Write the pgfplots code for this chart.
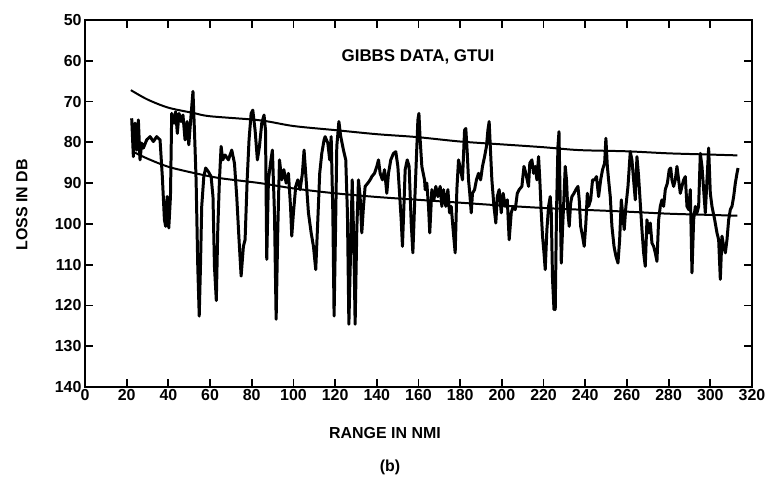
\documentclass[border=0pt]{standalone}
\usepackage{fontspec}
\setmainfont{Liberation Sans}
\usepackage{pgfplots}
\pgfplotsset{compat=1.18}

\begin{document}
\begin{tikzpicture}
\path[use as bounding box] (-85bp,-96bp) rectangle (690bp,387bp);
\begin{axis}[
    at={(0,0)}, anchor=south west,
    scale only axis, width=667bp, height=367bp,
    xmin=0, xmax=320, ymin=50, ymax=140,
    y dir=reverse,
    xtick distance=20, ytick distance=10,
    tick align=inside, major tick length=8bp,
    axis line style={line width=1.8pt},
    every tick/.style={line width=1.8pt, black},
    ticklabel style={font=\bfseries\fontsize{16}{16}\selectfont},
    xticklabel style={yshift=1bp},
    /pgf/number format/assume math mode=true,
    /pgf/number format/1000 sep={},
    clip=false,
  ]
  % upper envelope
  \addplot[black, line width=2pt, smooth] coordinates {
    (22,67.2) (30,69.5) (40,71.5) (52,72.8) (60,73.6) (84,74.6) (100,76)
    (120,77) (140,78) (159,78.7) (180,79.8) (200,80.5) (220,81.2)
    (237,81.9) (260,82.2) (280,82.7) (300,83) (313,83.2)};
  % lower envelope
  \addplot[black, line width=2pt, smooth] coordinates {
    (23,82.3) (30,84) (40,86) (53,87.6) (65,88.8) (84,90) (100,91.3)
    (120,92.5) (140,93.4) (160,94.1) (180,94.8) (200,95.5) (220,96.1)
    (237,96.5) (260,97) (280,97.5) (300,97.8) (313,98)};
  % measured loss
  \addplot[black, line width=3pt, line join=round] coordinates {
    (22.4,74.1) (23.2,83.5) (24.0,75.3) (24.8,81.9) (25.6,74.5) (26.4,84.3)
    (27.2,80.2) (28.0,81.4) (29.6,79.4) (31.2,78.6) (32.8,79.8) (34.4,78.6)
    (36.0,79.4) (37.1,88.4) (38.1,99.0) (38.7,100.6) (39.4,93.3) (40.2,101.0)
    (41.0,93.3) (41.6,72.9) (42.7,75.3) (43.5,72.5) (44.3,77.8) (45.1,72.9)
    (46.1,74.9) (47.0,73.3) (48.0,79.4) (49.0,74.9) (49.8,80.6) (50.7,74.5)
    (51.8,67.5) (52.5,77.0) (53.3,89.2) (54.1,110.4) (54.8,122.6) (55.4,110.4)
    (56.0,95.7) (57.0,88.4) (57.9,86.3) (59.2,87.2) (60.5,88.4) (61.4,93.3)
    (62.1,110.4) (63.0,118.8) (63.7,101.4) (64.5,89.2) (65.3,81.0) (66.1,84.3)
    (67.2,83.1) (68.8,84.3) (70.4,81.9) (71.7,85.1) (72.8,93.3) (73.9,103.9)
    (74.9,112.8) (76.0,105.5) (76.8,103.9) (77.8,89.2) (78.7,79.4) (79.7,72.9)
    (80.5,72.1) (81.6,77.0) (82.7,84.3) (83.7,81.0) (84.8,75.3) (85.9,73.3)
    (86.6,77.0) (87.2,108.7) (88.0,89.2) (89.0,85.1) (89.9,81.9) (90.9,97.3)
    (91.7,123.4) (92.5,101.4) (93.3,84.3) (94.4,89.2) (95.4,86.7) (96.5,90.0)
    (97.6,87.6) (98.6,95.7) (99.2,103.0) (100.0,97.3) (101.1,90.8) (102.1,89.2)
    (103.2,91.6) (104.3,87.6) (105.1,81.9) (106.1,89.2) (107.2,97.3)
    (108.5,102.2) (109.6,105.5) (110.7,111.2) (111.7,99.0) (112.6,87.6)
    (113.6,82.7) (114.7,79.4) (115.2,78.6) (116.5,80.2) (117.4,84.3)
    (118.1,78.6) (118.9,97.3) (119.5,122.6) (120.2,101.4) (120.8,81.0)
    (121.8,74.9) (122.7,78.6) (124.0,81.9) (125.1,84.3) (125.9,97.3)
    (126.6,124.6) (127.4,107.1) (128.2,89.2) (129.0,105.5) (129.6,124.6)
    (130.4,101.4) (131.2,89.2) (132.0,93.3) (132.8,102.2) (133.6,95.7)
    (134.4,90.8) (135.7,90.0) (136.8,89.2) (137.6,88.4) (138.9,87.6)
    (140.0,85.9) (140.8,84.3) (141.6,87.6) (142.7,89.2) (143.7,86.7)
    (144.8,92.5) (145.6,87.6) (146.7,84.3) (148.0,82.7) (149.1,82.3)
    (150.1,85.9) (150.7,90.8) (151.7,99.0) (152.3,105.5) (153.0,95.7)
    (153.6,86.7) (154.6,84.3) (155.5,85.9) (156.5,99.8) (157.3,107.1)
    (158.1,95.7) (158.9,85.1) (159.7,74.5) (160.2,72.9) (160.8,79.4)
    (161.6,85.9) (162.9,89.2) (163.2,91.6) (164.0,90.0) (164.8,95.7)
    (165.4,102.2) (166.4,91.6) (167.4,94.1) (168.3,90.8) (169.3,93.3)
    (170.4,90.8) (171.2,95.7) (172.0,91.6) (173.1,95.7) (174.1,91.6)
    (174.9,97.3) (175.7,95.7) (176.6,101.4) (177.6,107.1) (178.4,91.6)
    (179.2,84.3) (180.2,86.7) (181.1,89.2) (182.1,77.0) (182.7,76.6)
    (183.4,82.7) (184.0,89.2) (184.6,92.5) (185.3,97.3) (185.9,92.5)
    (186.9,91.6) (187.8,89.2) (188.8,87.6) (189.8,89.2) (190.7,85.9)
    (191.7,83.5) (192.6,81.0) (193.3,77.0) (193.9,74.9) (194.6,82.7)
    (195.2,89.2) (196.2,95.7) (197.1,99.8) (197.8,93.3) (198.7,91.6)
    (199.7,97.3) (200.6,92.5) (201.6,95.7) (202.6,94.1) (203.5,103.9)
    (204.5,97.3) (205.4,95.7) (206.4,96.5) (207.4,92.5) (208.3,91.6)
    (209.6,90.8) (210.6,85.9) (211.5,87.6) (212.8,90.8) (213.4,85.1)
    (214.4,84.3) (215.2,87.6) (216.0,85.9) (216.8,89.2) (217.6,83.5)
    (218.2,89.2) (218.9,97.3) (219.5,103.0) (220.2,107.1) (220.8,111.2)
    (221.6,101.4) (222.4,95.7) (223.2,93.3) (223.7,97.3) (224.3,113.6)
    (225.0,121.0) (225.3,115.3) (225.6,121.0) (226.2,97.3) (226.9,81.0)
    (227.4,77.4) (227.8,89.2) (228.5,109.6) (229.1,101.4) (229.8,93.3)
    (230.4,85.9) (231.0,89.2) (231.7,97.3) (232.3,100.6) (233.0,94.9)
    (233.6,93.3) (234.6,92.5) (235.5,91.6) (236.5,90.8) (237.1,94.1)
    (237.8,100.6) (238.7,103.0) (239.5,105.5) (240.3,99.8) (241.0,92.5)
    (241.6,95.7) (242.6,94.1) (243.5,89.2) (244.5,89.2) (245.4,88.4)
    (246.4,93.3) (247.4,89.2) (248.3,86.7) (249.3,85.1) (249.9,79.0)
    (250.6,85.9) (251.2,89.2) (252.0,93.3) (252.8,100.6) (253.8,105.5)
    (254.7,107.9) (255.7,109.6) (256.5,103.9) (257.3,94.1) (257.9,97.3)
    (258.7,101.4) (259.5,95.7) (260.5,90.8) (261.6,82.3) (262.4,84.3)
    (263.2,89.2) (264.0,94.1) (264.8,83.5) (265.6,88.4) (266.4,94.9)
    (267.2,101.4) (268.0,107.1) (268.8,110.4) (269.6,99.0) (270.4,102.2)
    (271.2,99.8) (272.0,104.7) (272.8,105.5) (273.6,107.1) (274.4,109.2)
    (275.2,99.0) (276.0,95.7) (276.8,94.1) (277.6,95.7) (278.4,91.6)
    (279.4,90.0) (280.3,86.7) (281.0,86.3) (281.6,89.2) (282.4,90.8)
    (283.2,89.2) (284.0,85.9) (284.8,89.2) (285.6,92.5) (286.4,90.8)
    (287.2,89.2) (288.0,88.4) (288.8,95.7) (289.6,96.5) (290.4,91.6)
    (291.2,112.0) (292.0,99.0) (292.8,95.7) (293.6,97.3) (294.4,95.7)
    (295.2,82.7) (296.0,85.9) (296.8,91.6) (297.6,97.3) (298.4,89.2)
    (299.2,81.4) (300.0,92.5) (300.8,95.7) (302.1,99.0) (303.2,102.2)
    (304.0,103.9) (304.8,113.6) (305.6,103.0) (306.4,105.5) (307.2,107.1)
    (308.0,103.9) (308.8,99.0) (309.6,96.5) (310.4,95.7) (311.2,93.3)
    (312.0,90.0) (312.8,87.6) (313.3,86.3)};
\end{axis}
\node[font=\bfseries\fontsize{17}{17}\selectfont] at (333bp,330bp) {GIBBS DATA, GTUI};
\node[font=\bfseries\fontsize{16}{16}\selectfont, rotate=90] at (-63bp,182bp) {LOSS IN DB};
\node[font=\bfseries\fontsize{16}{16}\selectfont] at (300bp,-46bp) {RANGE IN NMI};
\node[font=\bfseries\fontsize{16}{16}\selectfont] at (305bp,-80bp) {(b)};
\end{tikzpicture}
\end{document}
